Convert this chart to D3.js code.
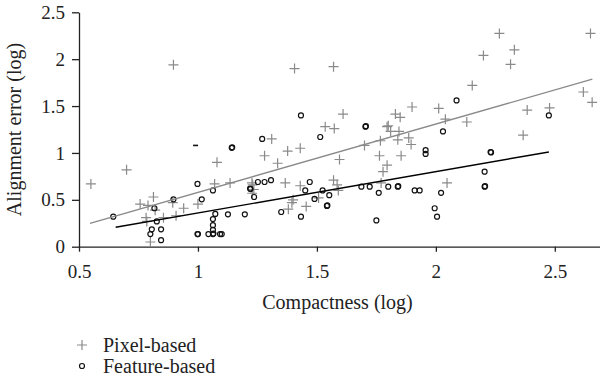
<!DOCTYPE html>
<html><head><meta charset="utf-8">
<script src="https://cdn.jsdelivr.net/npm/d3@7/dist/d3.min.js"></script>
<style>body{margin:0;background:#fff}svg{display:block}
svg text{font-family:"Liberation Serif","Times New Roman",Tinos,"DejaVu Serif","Noto Serif",serif !important}</style>
</head><body><svg id="c" width="600" height="383"></svg>
<script>
// ---- data (log compactness, log alignment error) ----
const pixelBased = [
[0.55,0.67],[0.70,0.82],[0.897,1.94],[0.757,0.455],[0.79,0.44],[0.813,0.53],[0.82,0.39],
[0.782,0.31],[0.785,0.27],[0.80,0.05],[0.855,0.31],[0.894,0.47],[0.908,0.33],[0.94,0.41],
[1.0,0.455],[1.07,0.67],[1.08,0.90],[1.31,1.15],[1.28,0.97],[1.377,1.02],[1.43,1.05],
[1.335,0.89],[1.135,0.68],[1.227,0.68],[1.23,0.66],[1.235,0.61],[1.228,0.57],[1.367,0.68],
[1.43,0.65],[1.40,0.50],[1.395,0.47],[1.38,0.40],[1.455,0.43],[1.507,0.52],[1.57,0.71],
[1.585,0.66],[1.59,0.60],[1.595,0.93],[1.70,1.08],[1.767,1.13],[1.763,0.97],[1.778,0.80],
[1.795,0.87],[1.77,0.68],[1.81,1.23],[1.845,1.23],[1.84,1.14],[1.886,1.16],[1.896,1.09],
[1.854,0.97],[2.047,0.68],[2.367,1.19],[1.406,1.90],[1.57,1.92],[1.61,1.415],[1.535,1.28],
[1.573,1.26],[1.795,1.28],[2.267,2.275],[2.65,2.275],[2.20,2.04],[2.33,2.10],[2.314,1.945],
[2.153,1.72],[2.62,1.65],[2.657,1.54],[2.384,1.457],[2.478,1.48],[2.012,1.475],[2.04,1.36],
[2.13,1.33],[1.90,1.49],[1.83,1.415],[1.85,1.38],[1.80,1.29]
];
const featureBased = [
[0.644,0.32],[0.817,0.41],[0.827,0.27],[0.806,0.185],[0.80,0.135],[0.845,0.185],[0.845,0.07],
[0.897,0.505],[0.998,0.67],[1.016,0.505],[1.0,0.135],[0.998,0.135],[1.063,0.60],[1.073,0.35],
[1.063,0.295],[1.063,0.23],[1.063,0.18],[1.063,0.135],[1.065,0.14],[1.044,0.135],[1.093,0.135],
[1.144,1.06],[1.142,1.055],[1.27,1.15],[1.514,1.17],[1.219,0.62],[1.221,0.615],[1.236,0.53],
[1.252,0.69],[1.28,0.69],[1.307,0.71],[1.126,0.345],[1.197,0.345],[1.35,0.37],[1.433,0.32],
[1.47,0.69],[1.451,0.60],[1.49,0.51],[1.524,0.60],[1.552,0.55],[1.542,0.435],[1.544,0.44],
[1.10,0.135],[1.687,0.64],[1.722,0.64],[1.76,0.575],[1.75,0.28],[1.80,0.64],[1.84,0.64],
[1.842,0.645],[1.911,0.60],[1.932,0.60],[1.957,1.03],[1.957,0.99],[2.022,0.575],[1.995,0.41],
[2.005,0.32],[2.03,1.23],[2.205,0.80],[2.205,0.64],[2.207,0.645],[2.23,1.01],[2.232,1.005],
[2.087,1.56],[2.475,1.40],[1.433,1.40],[1.704,1.28],[1.706,1.285]
];
// a clipped feature-based marker that shows only as a short dash
const featureDash = [[0.99, 1.08]];
// regression fits: [slope, intercept, xStart, xEnd]
const pixelFit = [0.728, -0.148, 0.546, 2.658];
const featureFit = [0.441, -0.081, 0.654, 2.475];
const xTicks = [0.5, 1, 1.5, 2, 2.5];
const yTicks = [0, 0.5, 1, 1.5, 2, 2.5];
const seriesNames = ["Pixel-based", "Feature-based"];
const xTitle = "Compactness (log)";
const yTitle = "Alignment error (log)";

// ---- drawing ----
const FONT = '"Liberation Serif","Times New Roman",Tinos,"DejaVu Serif","Noto Serif",serif';
const svg = d3.select("#c");
const x = d3.scaleLinear().domain([0.5, 2.69]).range([79, 600]);
const y = d3.scaleLinear().domain([0, 2.5]).range([246.7, 12.3]);
const GRAY = "#8a8a8a";

const fmt = d => d3.format("")(d);

const xAxis = svg.append("g").attr("transform", `translate(0,${y(0)})`)
  .call(d3.axisBottom(x).tickValues(xTicks).tickFormat(fmt).tickSize(5).tickSizeOuter(0).tickPadding(13));
const yAxis = svg.append("g").attr("transform", `translate(${x(0.5)},0)`)
  .call(d3.axisLeft(y).tickValues(yTicks).tickFormat(fmt).tickSize(7).tickSizeOuter(0).tickPadding(7));
[xAxis, yAxis].forEach(g => {
  g.attr("font-family", FONT).attr("font-size", 19);
  g.selectAll("path.domain").attr("stroke", "#222").attr("stroke-width", 1.3);
  g.selectAll(".tick line").attr("stroke", "#222").attr("stroke-width", 1.3);
  g.selectAll(".tick text").attr("fill", "#222").attr("font-family", FONT).attr("font-size", 19);
});

// points
svg.append("g").selectAll("path").data(pixelBased).join("path")
  .attr("transform", d => `translate(${x(d[0])},${y(d[1])})`)
  .attr("d", "M-5,0H5M0,-5V5").attr("stroke", GRAY).attr("stroke-width", 1.2).attr("fill", "none");
svg.append("g").selectAll("circle").data(featureBased).join("circle")
  .attr("cx", d => x(d[0])).attr("cy", d => y(d[1])).attr("r", 2.5)
  .attr("fill", "none").attr("stroke", "#111").attr("stroke-width", 1.2);
svg.append("g").selectAll("path").data(featureDash).join("path")
  .attr("transform", d => `translate(${x(d[0])},${y(d[1])})`)
  .attr("d", "M-2.5,0H2.5").attr("stroke", "#111").attr("stroke-width", 1.6);

// fit lines
const line = d3.line().x(d => x(d[0])).y(d => y(d[1]));
const fitPts = f => [f[2], f[3]].map(v => [v, f[0] * v + f[1]]);
svg.append("path").attr("d", line(fitPts(pixelFit))).attr("stroke", GRAY).attr("stroke-width", 1.4).attr("fill", "none");
svg.append("path").attr("d", line(fitPts(featureFit))).attr("stroke", "#000").attr("stroke-width", 1.4).attr("fill", "none");

// titles
svg.append("text").attr("x", (x.range()[0] + x.range()[1]) / 2 - 2).attr("y", 309)
  .attr("text-anchor", "middle").attr("font-family", FONT).attr("font-size", 20).attr("fill", "#222")
  .text(xTitle);
svg.append("text").attr("transform", `translate(21,${(y.range()[0] + y.range()[1]) / 2}) rotate(-90)`)
  .attr("text-anchor", "middle").attr("font-family", FONT).attr("font-size", 20).attr("fill", "#222")
  .text(yTitle);

// legend
const lg = svg.append("g");
const rows = [345, 366];
lg.append("path").attr("transform", `translate(82,${rows[0]})`).attr("d", "M-5,0H5M0,-5V5")
  .attr("stroke", GRAY).attr("stroke-width", 1.2);
lg.append("circle").attr("cx", 82).attr("cy", rows[1]).attr("r", 2.5).attr("fill", "none")
  .attr("stroke", "#111").attr("stroke-width", 1.2);
rows.forEach((r, i) => lg.append("text").attr("x", 103).attr("y", r).attr("dy", "0.35em")
  .attr("font-family", FONT).attr("font-size", 20).attr("fill", "#222").text(seriesNames[i]));
</script></body></html>
